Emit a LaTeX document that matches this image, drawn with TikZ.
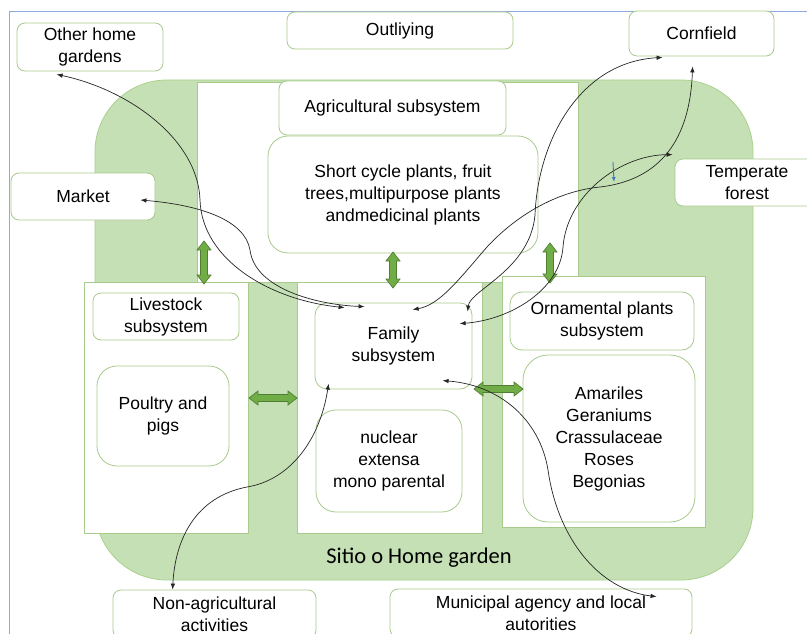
\documentclass[tikz,border=0pt]{standalone}
\usepackage{fontspec}
\setmainfont{Liberation Sans}
\newfontfamily\calibfont{Carlito}
\usetikzlibrary{arrows.meta,calc}
\definecolor{bgG}{HTML}{C5E0B4}
\definecolor{bgD}{HTML}{A9D18E}
\definecolor{nodeb}{HTML}{A8CB8C}
\definecolor{blkF}{HTML}{70AD47}
\definecolor{blkD}{HTML}{507E32}
\definecolor{frameC}{HTML}{8FAADC}
\definecolor{blueA}{HTML}{4472C4}
\newcommand\myvblk[3]{\draw[blk] (#1,#2) -- ++(7,9) -- ++(-3.5,0) -- ({#1+3.5},{#3-9}) -- ++(3.5,0) -- (#1,#3) -- ++(-7,-9) -- ++(3.5,0) -- ({#1-3.5},{#2+9}) -- ++(-3.5,0) -- cycle;}
\newcommand\myhblk[3]{\draw[blk] (#2,#1) -- ++(9,-7) -- ++(0,3.5) -- ({#3-9},{#1-3.5}) -- ++(0,-3.5) -- (#3,#1) -- ++(-9,7) -- ++(0,-3.5) -- ({#2+9},{#1+3.5}) -- ++(0,3.5) -- cycle;}
\begin{document}
\begin{tikzpicture}[x=1pt,y=-1pt,
  box/.style={draw=nodeb, fill=white, rounded corners=8pt, line width=0.8pt, align=center, inner sep=0pt, font=\fontsize{17.5}{22}\selectfont},
  region/.style={draw=nodeb, fill=white, line width=0.8pt},
  blk/.style={fill=blkF, draw=blkD, line width=0.7pt, line join=miter},
  conn/.style={draw=black!85, line width=0.7pt, <->, >={Latex[length=6pt,width=4.5pt]}},
  bluearr/.style={draw=blueA, line width=0.9pt, ->, >={Latex[length=5pt,width=4pt]}}]
\useasboundingbox (0,0) rectangle (807,634);
\clip (0,0) rectangle (807,634);
\fill[white] (0,0) rectangle (807,634);
% frame
\draw[frameC, line width=0.8pt] (9,640) -- (9,11) -- (810,11);
% green home garden
\draw[fill=bgG, draw=bgD, line width=0.8pt, rounded corners=72pt] (95,80) rectangle (753,580);
% regions
\draw[region] (197,82) rectangle (578,282);
\draw[region] (84,282) rectangle (248,533);
\draw[region] (297,282) rectangle (482,533);
\draw[region] (502,276) rectangle (705,527);
% nodes
\node[box, minimum width=146pt, minimum height=48pt] (ohg) at (90,47) {Other home\\gardens};
\node[box, minimum width=226pt, minimum height=37pt] (outl) at (400,30.5) {Outliying};
\node[box, minimum width=145pt, minimum height=45pt] (corn) at (701.5,33.5) {Cornfield};
\node[box, minimum width=144pt, minimum height=47pt] (market) at (83,196.5) {Market};
\node[box, minimum width=144pt, minimum height=47pt] (temp) at (747,182.5) {Temperate\\forest};
\node[box, minimum width=227pt, minimum height=54pt] (agri) at (392.5,108) {Agricultural subsystem};
\node[box, rounded corners=20pt, minimum width=270pt, minimum height=117pt] (short) at (403,194.5) {Short cycle plants, fruit\\trees,multipurpose plants\\andmedicinal plants};
\node[box, minimum width=146pt, minimum height=47pt] (live) at (166,316.5) {Livestock\\subsystem};
\node[box, rounded corners=20pt, minimum width=132pt, minimum height=100pt] (poultry) at (163,416) {Poultry and\\pigs};
\node[box, rounded corners=12pt, minimum width=157pt, minimum height=86pt] (family) at (393.5,346) {Family\\subsystem};
\node[box, rounded corners=20pt, minimum width=146pt, minimum height=102pt] (nuclear) at (389,461) {nuclear\\extensa\\mono parental};
\node[box, rounded corners=12pt, minimum width=184pt, minimum height=58pt] (ornam) at (602,321) {Ornamental plants\\subsystem};
\node[box, rounded corners=25pt, minimum width=172pt, minimum height=167pt] (amar) at (609,438.5) {Amariles\\Geraniums\\Crassulaceae\\Roses\\Begonias};
\node[box, minimum width=203pt, minimum height=48pt] (nonag) at (214.5,614) {Non-agricultural\\activities};
\node[box, minimum width=302pt, minimum height=48pt] (muni) at (541,613) {Municipal agency and local\\autorities};
\node[font=\calibfont\fontsize{22.5}{27}\selectfont, anchor=base, inner sep=0pt] (sitio) at (419,563) {Sitio o Home garden};
% block arrows
\myvblk{204}{241}{284}
\myvblk{393}{252}{288}
\myvblk{550}{243}{283}
\myhblk{398}{249}{297}
\myhblk{389}{474}{523}
% connector end points
\coordinate (eOHG) at ($(ohg.south west)+(40,3)$);
\coordinate (eMkt) at ($(market.east)+(-15,3.5)$);
\coordinate (eC1) at ($(corn.south west)+(34,1)$);
\coordinate (eC2) at ($(corn.south west)+(64,10)$);
\coordinate (eT) at ($(temp.north west)+(-2,-4)$);
\coordinate (eNA) at ($(nonag.north west)+(60,0)$);
\coordinate (eMu) at ($(muni.north west)+(267,8)$);
\coordinate (fOHG) at ($(family.north west)+(30,5)$);
\coordinate (fMkt) at ($(family.north west)+(50,4)$);
\coordinate (fC2) at ($(family.north west)+(98,7)$);
\coordinate (fC1) at ($(family.north west)+(153,9)$);
\coordinate (fT) at ($(family.north west)+(145,21)$);
\coordinate (fNA) at ($(family.north west)+(14,81)$);
\coordinate (fMu) at ($(family.north west)+(128,78)$);
% connectors
\draw[conn] (eOHG) .. controls (130,90) and (198,140) .. (200,200) .. controls (202,260) and (270,300) .. (fOHG);
\draw[conn] (eMkt) .. controls (200,205) and (245,220) .. (250,250) .. controls (255,290) and (320,305) .. (fMkt);
\draw[conn] (fC1) .. controls (470,290) and (530,270) .. (535,215) .. controls (538,140) and (580,62) .. (eC1);
\draw[conn] (eC2) .. controls (690,140) and (660,180) .. (600,187) .. controls (550,192) and (510,222) .. (487,247) .. controls (460,278) and (440,305) .. (fC2);
\draw[conn] (eT) .. controls (620,155) and (567,195) .. (563,247) .. controls (560,290) and (510,320) .. (fT);
\draw[conn] (fNA) .. controls (320,440) and (290,480) .. (247,487) .. controls (195,497) and (175,540) .. (eNA);
\draw[conn] (fMu) .. controls (500,385) and (540,420) .. (548,470) .. controls (558,540) and (600,590) .. (eMu);
% small blue arrow
\coordinate (b1) at (613,162);
\coordinate (b2) at (614,182);
\draw[bluearr] (b1) -- (b2);
\end{tikzpicture}
\end{document}
